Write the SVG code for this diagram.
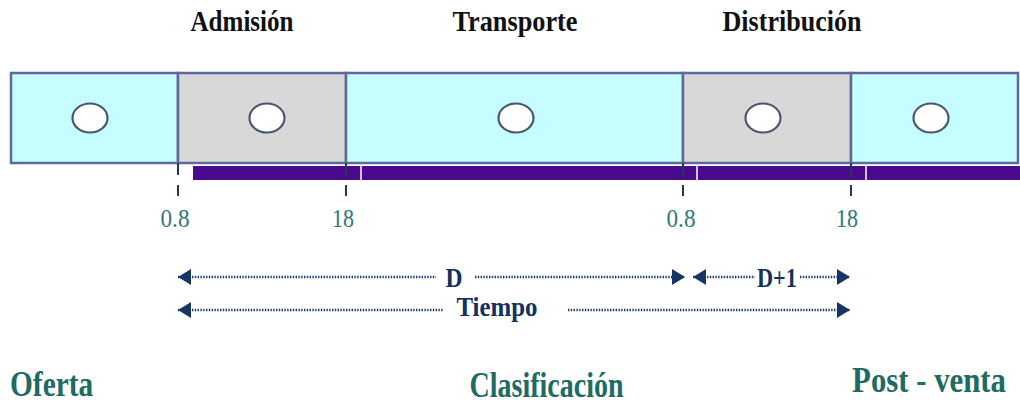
<svg xmlns="http://www.w3.org/2000/svg" width="1020" height="405" viewBox="0 0 1020 405">
  <style>
    .hdr { font-family: "Liberation Serif", "Times New Roman", serif; font-weight: bold; font-size: 30px; fill: #111111; text-anchor: middle; }
    .num { font-family: "Liberation Serif", "Times New Roman", serif; font-size: 25px; fill: #2f7a78; text-anchor: middle; }
    .dim { font-family: "Liberation Serif", "Times New Roman", serif; font-weight: bold; font-size: 28px; fill: #14305e; text-anchor: middle; }
    .bot { font-family: "Liberation Serif", "Times New Roman", serif; font-weight: bold; font-size: 35px; fill: #1d6b62; }
    .cyan { fill: #c6fdfe; stroke: #5b6a98; stroke-width: 2.5; }
    .gray { fill: #d8d8d8; stroke: #5b6a98; stroke-width: 2.5; }
    .oval { fill: #ffffff; stroke: #4a556e; stroke-width: 2.2; }
    .dots { stroke: #1b3a6b; stroke-width: 2.5; stroke-dasharray: 1.4 1.4; fill: none; }
    .tick { stroke: #2a3550; stroke-width: 2; }
  </style>
  <defs>
    <marker id="ah" markerUnits="userSpaceOnUse" markerWidth="15" markerHeight="17" refX="13" refY="8" orient="auto-start-reverse" viewBox="0 0 15 17">
      <path d="M0,0 L13,8 L0,16 z" fill="#143566"/>
    </marker>
  </defs>

  <!-- headers -->
  <g id="headers">
    <text class="hdr" x="242" y="31" textLength="103" lengthAdjust="spacingAndGlyphs">Admisión</text>
    <text class="hdr" x="515" y="31" textLength="125" lengthAdjust="spacingAndGlyphs">Transporte</text>
    <text class="hdr" x="792" y="31" textLength="139" lengthAdjust="spacingAndGlyphs">Distribución</text>
  </g>

  <!-- purple bar -->
  <g id="purple-bar">
    <rect x="193" y="166" width="827" height="14" fill="#4a0a8e"/>
    <line x1="361" y1="166" x2="361" y2="180" stroke="#ffffff" stroke-width="1.5"/>
    <line x1="697" y1="166" x2="697" y2="180" stroke="#ffffff" stroke-width="1.5"/>
    <line x1="866" y1="166" x2="866" y2="180" stroke="#ffffff" stroke-width="1.5"/>
  </g>

  <!-- segments -->
  <g id="seg-oferta">
    <rect class="cyan" x="11" y="73" width="167" height="90"/>
    <ellipse class="oval" cx="90" cy="118" rx="17.5" ry="14.5"/>
  </g>
  <g id="seg-admision">
    <rect class="gray" x="178" y="73" width="168" height="90"/>
    <ellipse class="oval" cx="267" cy="118" rx="17.5" ry="14.5"/>
  </g>
  <g id="seg-transporte">
    <rect class="cyan" x="346" y="73" width="337" height="90"/>
    <ellipse class="oval" cx="516" cy="118" rx="17.5" ry="14.5"/>
  </g>
  <g id="seg-distribucion">
    <rect class="gray" x="683" y="73" width="168" height="90"/>
    <ellipse class="oval" cx="763" cy="118" rx="17.5" ry="14.5"/>
  </g>
  <g id="seg-postventa">
    <rect class="cyan" x="851" y="73" width="167" height="90"/>
    <ellipse class="oval" cx="931" cy="118" rx="17.5" ry="14.5"/>
  </g>

  <!-- ticks -->
  <g id="ticks">
    <line class="tick" x1="178" y1="163" x2="178" y2="175"/>
    <line class="tick" x1="346" y1="163" x2="346" y2="178" stroke="#3a3a8a"/>
    <line class="tick" x1="683" y1="163" x2="683" y2="178" stroke="#3a3a8a"/>
    <line class="tick" x1="851" y1="163" x2="851" y2="178" stroke="#3a3a8a"/>
    <line class="tick" x1="178" y1="185" x2="178" y2="196"/>
    <line class="tick" x1="346" y1="185" x2="346" y2="196"/>
    <line class="tick" x1="683" y1="185" x2="683" y2="196"/>
    <line class="tick" x1="851" y1="185" x2="851" y2="196"/>
  </g>

  <g id="numbers">
    <text class="num" x="175" y="227" textLength="29" lengthAdjust="spacingAndGlyphs">0.8</text>
    <text class="num" x="343" y="227" textLength="22" lengthAdjust="spacingAndGlyphs">18</text>
    <text class="num" x="681" y="227" textLength="29" lengthAdjust="spacingAndGlyphs">0.8</text>
    <text class="num" x="847" y="227" textLength="22" lengthAdjust="spacingAndGlyphs">18</text>
  </g>

  <!-- connectors -->
  <g id="connectors">
    <line class="dots" x1="178" y1="277" x2="436" y2="277" marker-start="url(#ah)"/>
    <line class="dots" x1="475" y1="277" x2="685" y2="277" marker-end="url(#ah)"/>
    <line class="dots" x1="693" y1="277" x2="755" y2="277" marker-start="url(#ah)"/>
    <line class="dots" x1="800" y1="277" x2="850" y2="277" marker-end="url(#ah)"/>
    <line class="dots" x1="178" y1="310" x2="443" y2="310" marker-start="url(#ah)"/>
    <line class="dots" x1="568" y1="310" x2="850" y2="310" marker-end="url(#ah)"/>
  </g>

  <g id="dim-labels">
    <text class="dim" x="454" y="287" textLength="17" lengthAdjust="spacingAndGlyphs">D</text>
    <text class="dim" x="777" y="287" textLength="40" lengthAdjust="spacingAndGlyphs">D+1</text>
    <text class="dim" x="497" y="316" textLength="81" lengthAdjust="spacingAndGlyphs">Tiempo</text>
  </g>

  <g id="bottom-labels">
    <text class="bot" transform="translate(10,396) scale(0.84,1)" x="0" y="0">Oferta</text>
    <text class="bot" transform="translate(546.5,397) scale(0.80,1)" x="0" y="0" text-anchor="middle">Clasificación</text>
    <text class="bot" transform="translate(1006,392) scale(0.88,1)" x="0" y="0" text-anchor="end">Post - venta</text>
  </g>
</svg>
